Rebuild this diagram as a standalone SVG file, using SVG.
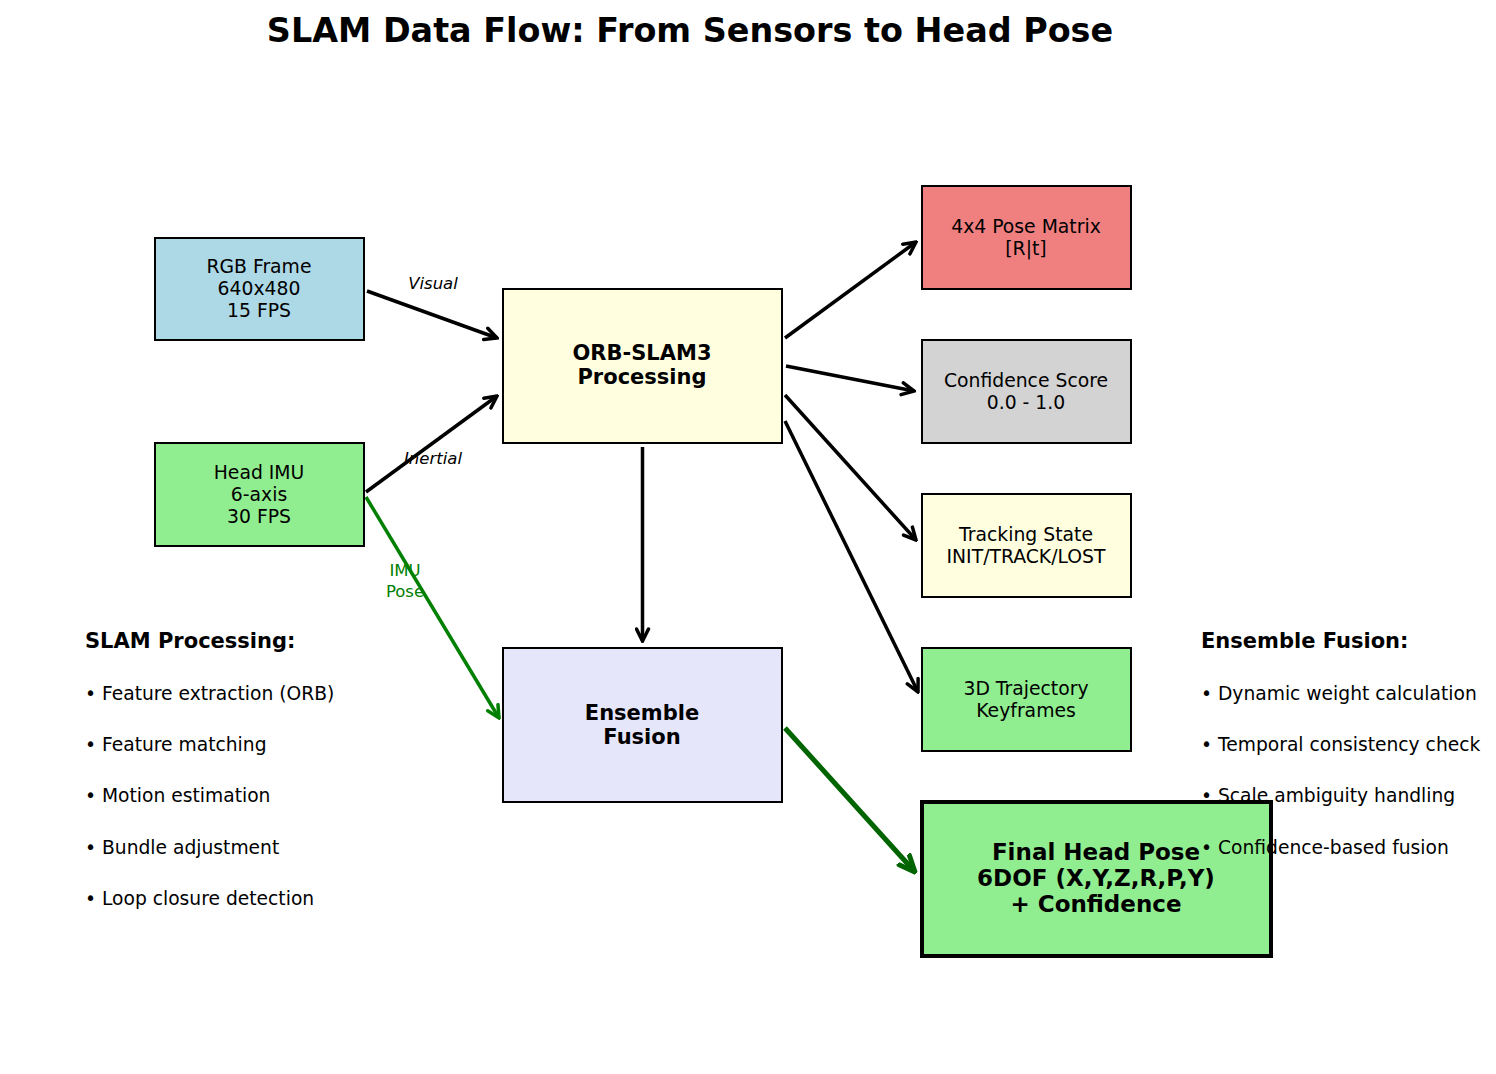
<svg xmlns="http://www.w3.org/2000/svg" width="1496" height="1074" viewBox="0 0 1496 1074">
<style>
text{font-family:"DejaVu Sans","Liberation Sans",sans-serif;fill:#000}
.n{stroke:#000;stroke-width:2}
.t{font-size:18.8px;text-anchor:middle}
.b{font-size:21px;font-weight:bold;text-anchor:middle}
.s{font-size:18.7px}
.h{font-size:21px;font-weight:bold}
.lab{font-size:16.5px;font-style:italic;text-anchor:middle}
.c{fill:none;stroke:#000;stroke-width:3.5;marker-end:url(#ak)}
</style>
<defs>
<marker id="ak" markerUnits="userSpaceOnUse" viewBox="0 0 16 16" refX="14" refY="8" markerWidth="16" markerHeight="16" orient="auto"><path d="M2,2 L14,8 L2,14" fill="none" stroke="#000" stroke-width="3.5" stroke-linecap="round" stroke-linejoin="miter"/></marker>
<marker id="ag" markerUnits="userSpaceOnUse" viewBox="0 0 16 16" refX="14" refY="8" markerWidth="16" markerHeight="16" orient="auto"><path d="M2,2 L14,8 L2,14" fill="none" stroke="#008000" stroke-width="3.5" stroke-linecap="round"/></marker>
<marker id="ad" markerUnits="userSpaceOnUse" viewBox="0 0 20 20" refX="18" refY="10" markerWidth="20" markerHeight="20" orient="auto"><path d="M2,3 L18,10 L2,17" fill="none" stroke="#006400" stroke-width="5" stroke-linecap="round"/></marker>
</defs>
<rect width="1496" height="1074" fill="#fff"/>
<text x="690" y="42" font-size="33.4" font-weight="bold" text-anchor="middle">SLAM Data Flow: From Sensors to Head Pose</text>

<g id="connectors">
<path class="c" d="M367,291 L497,338"/>
<path class="c" d="M366,492 L497,396"/>
<path d="M366,497 L499,718" fill="none" stroke="#008000" stroke-width="3.5" marker-end="url(#ag)"/>
<path class="c" d="M642.5,447 L642.5,641"/>
<path class="c" d="M785,338 L916,242"/>
<path class="c" d="M786,366 L914,391"/>
<path class="c" d="M785,395 L916,540"/>
<path class="c" d="M785,421 L918,692"/>
<path d="M785,728 L915,872" fill="none" stroke="#006400" stroke-width="5" marker-end="url(#ad)"/>
<text class="lab" x="433" y="289">Visual</text>
<text class="lab" x="433" y="464">Inertial</text>
<text x="405" y="576" font-size="16.5" text-anchor="middle" style="fill:#008000">IMU</text>
<text x="405" y="597" font-size="16.5" text-anchor="middle" style="fill:#008000">Pose</text>
</g>

<g id="rgb"><rect class="n" x="155" y="238" width="209" height="102" fill="#ADD8E6"/>
<text class="t" x="259" y="273">RGB Frame</text><text class="t" x="259" y="295">640x480</text><text class="t" x="259" y="317">15 FPS</text></g>
<g id="imu"><rect class="n" x="155" y="443" width="209" height="103" fill="#90EE90"/>
<text class="t" x="259" y="479">Head IMU</text><text class="t" x="259" y="501">6-axis</text><text class="t" x="259" y="523">30 FPS</text></g>
<g id="orb"><rect class="n" x="503" y="289" width="279" height="154" fill="#FFFFE0"/>
<text class="b" x="642" y="360">ORB-SLAM3</text><text class="b" x="642" y="384">Processing</text></g>
<g id="ensemble"><rect class="n" x="503" y="648" width="279" height="154" fill="#E6E6FA"/>
<text class="b" x="642" y="720">Ensemble</text><text class="b" x="642" y="744">Fusion</text></g>
<g id="pose"><rect class="n" x="922" y="186" width="209" height="103" fill="#F08080"/>
<text class="t" x="1026" y="233">4x4 Pose Matrix</text><text class="t" x="1026" y="255">[R|t]</text></g>
<g id="conf"><rect class="n" x="922" y="340" width="209" height="103" fill="#D3D3D3"/>
<text class="t" x="1026" y="387">Confidence Score</text><text class="t" x="1026" y="409">0.0 - 1.0</text></g>
<g id="track"><rect class="n" x="922" y="494" width="209" height="103" fill="#FFFFE0"/>
<text class="t" x="1026" y="541">Tracking State</text><text class="t" x="1026" y="563">INIT/TRACK/LOST</text></g>
<g id="traj"><rect class="n" x="922" y="648" width="209" height="103" fill="#90EE90"/>
<text class="t" x="1026" y="695">3D Trajectory</text><text class="t" x="1026" y="717">Keyframes</text></g>
<g id="final"><rect x="922" y="802" width="349" height="154" fill="#90EE90" stroke="#000" stroke-width="4"/>
<text x="1096" y="860" font-size="23" font-weight="bold" text-anchor="middle">Final Head Pose</text>
<text x="1096" y="886" font-size="23" font-weight="bold" text-anchor="middle">6DOF (X,Y,Z,R,P,Y)</text>
<text x="1096" y="912" font-size="23" font-weight="bold" text-anchor="middle">+ Confidence</text></g>

<g id="slam-notes">
<text class="h" x="85" y="648">SLAM Processing:</text>
<text class="s" x="85" y="700">• Feature extraction (ORB)</text>
<text class="s" x="85" y="751">• Feature matching</text>
<text class="s" x="85" y="802">• Motion estimation</text>
<text class="s" x="85" y="854">• Bundle adjustment</text>
<text class="s" x="85" y="905">• Loop closure detection</text>
</g>
<g id="fusion-notes">
<text class="h" x="1201" y="648">Ensemble Fusion:</text>
<text class="s" x="1201" y="700">• Dynamic weight calculation</text>
<text class="s" x="1201" y="751">• Temporal consistency check</text>
<text class="s" x="1201" y="802">• Scale ambiguity handling</text>
<text class="s" x="1201" y="854">• Confidence-based fusion</text>
</g>
</svg>
